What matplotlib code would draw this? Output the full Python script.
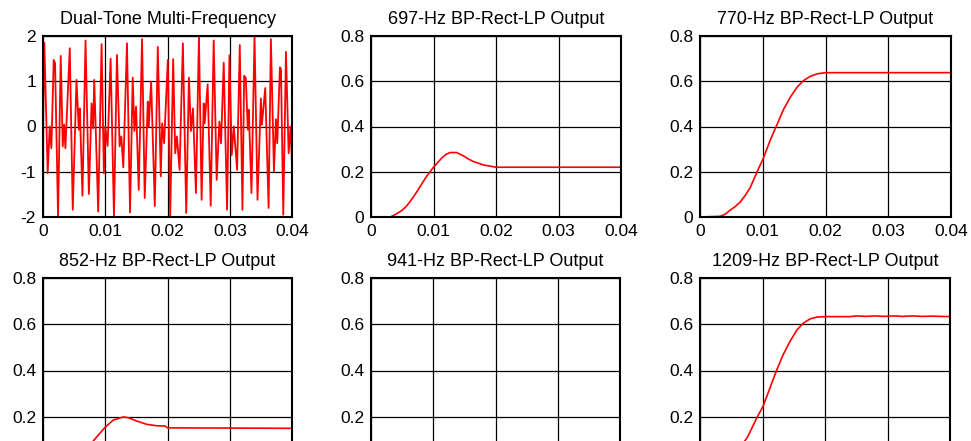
import matplotlib
matplotlib.use("Agg")
import matplotlib.pyplot as plt

plt.rcParams['font.family'] = ['Liberation Sans', 'DejaVu Sans']

# Dual-tone signal, extremes (time in ms)
dtmf_t = [0, 0.215, 0.753, 1.075, 1.344, 1.72, 1.935, 2.42, 2.85, 3.17, 3.39, 3.60,
          4.30, 4.78, 5.38, 5.75, 5.91, 6.34, 6.83, 7.37, 7.80, 8.06, 8.23, 8.87,
          9.41, 9.78, 10.0, 10.38, 10.86, 11.40, 11.88, 12.31, 12.58, 12.90, 13.49,
          13.98, 14.41, 14.68, 14.95, 15.38, 15.91, 16.34, 16.83, 16.99, 17.37,
          17.96, 18.44, 18.92, 19.14, 19.46, 20.05, 20.43, 20.91, 21.24, 21.51,
          21.94, 22.47, 23.01, 23.44, 23.76, 24.09, 24.57, 25.05, 25.48, 25.81,
          25.97, 26.45, 26.94, 27.42, 27.90, 28.33, 28.60, 29.03, 29.57, 29.95,
          30.32, 30.65, 31.18, 31.61, 32.04, 32.31, 32.58, 32.90, 33.06, 33.49,
          33.98, 34.46, 35.0, 35.16, 35.70, 36.24, 36.61, 37.10, 37.42, 37.63,
          38.06, 38.23, 38.60, 39.03, 39.46, 39.78, 40.0]
dtmf_v = [0, 1.85, -1.03, 0.0, -0.48, 1.47, 1.40, -1.99, 1.56, -0.44, 0.04, -0.48,
          1.73, -1.84, 1.03, -0.07, 0.40, -1.53, 1.90, -1.49, 0.51, -0.04, 1.03, -1.88,
          1.82, -1.03, 0.0, -0.43, 1.50, -1.99, 1.58, -0.44, -0.22, -0.90, 1.84,
          -1.90, 1.08, -0.10, 0.44, -1.40, 1.93, -1.58, 0.55, 0.0, 0.99,
          -1.76, 1.76, -1.10, 0.07, -0.37, 1.47, -1.99, 1.49, -0.59, -0.22,
          -0.96, 1.84, -1.91, 1.08, -0.10, 0.40, -1.47, 2.0, -1.62, 0.51,
          0.07, 0.93, -1.75, 1.90, -1.18, 0.11, -0.37, 1.41, -1.84, 1.57,
          -0.63, 0.0, -0.96, 1.80, -1.84, 1.12, 1.07, -0.07, 0.37, -1.47,
          2.0, -1.62, 0.62, 0.04, 0.85, -1.80, 1.93, -0.99, 0.16, -0.37,
          1.31, 1.26, -1.95, 1.65, -0.59, 0.0, -0.88]

# detector outputs (time in ms)
t697 = [0, 3.1, 4.15, 5.0, 5.74, 6.5, 7.3, 8.1, 8.9, 10.0, 11.3, 12.0, 12.7, 13.7, 14.8,
        15.6, 16.4, 18.0, 19.6, 20.0, 40.0]
y697 = [0, 0, 0.015, 0.03, 0.05, 0.078, 0.11, 0.145, 0.18, 0.22, 0.26, 0.277, 0.285, 0.285,
        0.27, 0.256, 0.245, 0.23, 0.222, 0.22, 0.22]

t770 = [0, 3.2, 4.0, 4.8, 5.6, 6.4, 7.2, 8.0, 9.1, 10.1, 11.2, 12.3, 13.3, 14.4, 15.5,
        16.5, 17.6, 18.7, 20.0, 40.0]
y770 = [0, 0.003, 0.012, 0.03, 0.046, 0.066, 0.095, 0.13, 0.20, 0.26, 0.34, 0.41, 0.475,
        0.53, 0.575, 0.603, 0.622, 0.633, 0.638, 0.638]

t852 = [0, 3.0, 5.0, 7.0, 8.6, 10.0, 11.3, 12.9, 13.7, 15.1, 16.7, 18.3, 19.6, 20.0, 40.0]
y852 = [0, 0, 0.02, 0.06, 0.112, 0.155, 0.186, 0.199, 0.196, 0.181, 0.167, 0.161, 0.16, 0.152, 0.15]

t941 = [0, 4.0, 8.0, 12.0, 16.0, 20.0, 40.0]
y941 = [0, 0, 0.01, 0.03, 0.035, 0.03, 0.03]

t1209 = [0, 3.0, 5.0, 6.5, 7.6, 9.1, 10.1, 11.2, 12.3, 13.3, 14.4, 15.5, 16.5, 17.6,
         18.7, 20.0, 24.0, 25.0, 26.5, 28.0, 29.5, 31.0, 32.5, 34.0, 35.5, 37.0, 40.0]
y1209 = [0, 0, 0.03, 0.07, 0.112, 0.196, 0.246, 0.325, 0.404, 0.468, 0.526, 0.575, 0.604, 0.623,
         0.631, 0.633, 0.633, 0.636, 0.634, 0.636, 0.634, 0.636, 0.634, 0.636, 0.634, 0.635, 0.633]

titles = ["Dual-Tone Multi-Frequency", "697-Hz BP-Rect-LP Output", "770-Hz BP-Rect-LP Output",
          "852-Hz BP-Rect-LP Output", "941-Hz BP-Rect-LP Output", "1209-Hz BP-Rect-LP Output"]
series = [(dtmf_t, dtmf_v), (t697, y697), (t770, y770),
          (t852, y852), (t941, y941), (t1209, y1209)]

W, H = 971, 441
fig = plt.figure(figsize=(W / 100, H / 100), dpi=100)

# axes boxes in pixels: left, right, top, bottom (bottom row runs past the edge)
boxes = [(43, 292, 36, 217), (371, 621, 36, 217), (700, 951, 36, 217),
         (43, 292, 278, 463), (371, 620, 278, 463), (700, 950, 278, 463)]

for i, (box, title, (t, y)) in enumerate(zip(boxes, titles, series)):
    l, r, top, bot = box
    ax = fig.add_axes([l / W, 1 - bot / H, (r - l) / W, (bot - top) / H])
    ax.plot([v / 1000 for v in t], y, color="red", lw=1.3 if i == 0 else 1.2)
    ax.set_xlim(0, 0.04)
    ax.set_xticks([0, 0.01, 0.02, 0.03, 0.04])
    ax.set_xticklabels(["0", "0.01", "0.02", "0.03", "0.04"])
    if i == 0:
        ax.set_ylim(-2, 2)
        ax.set_yticks([-2, -1, 0, 1, 2])
        ax.set_yticklabels(["-2", "-1", "0", "1", "2"])
    elif i < 3:
        ax.set_ylim(0, 0.8)
        ax.set_yticks([0, 0.2, 0.4, 0.6, 0.8])
        ax.set_yticklabels(["0", "0.2", "0.4", "0.6", "0.8"])
    else:
        # lower row: the 0 line and the x labels fall below the picture
        ax.set_ylim(0, 0.8)
        ax.set_yticks([0.2, 0.4, 0.6, 0.8])
        ax.set_yticklabels(["0.2", "0.4", "0.6", "0.8"])
    ax.grid(True, color="black", lw=0.9)
    ax.set_axisbelow(True)
    for s in ax.spines.values():
        s.set_linewidth(1.5)
    ax.tick_params(length=0, labelsize=12.5, pad=5, colors="black")
    if i >= 3:
        ax.tick_params(labelbottom=False)
    ax.set_title(title, fontsize=13, pad=9)

fig.savefig("out.png", dpi=100)
